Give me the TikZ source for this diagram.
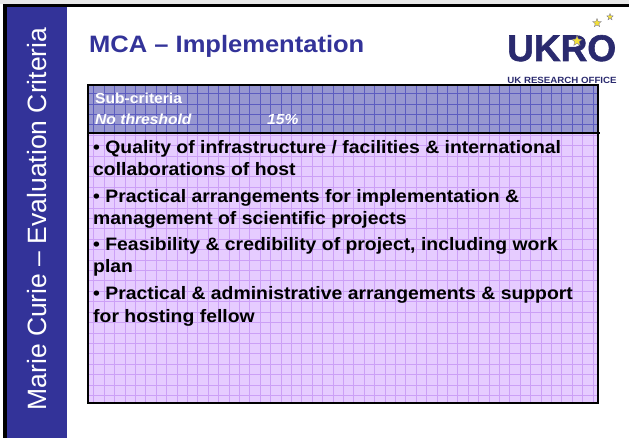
\documentclass[tikz,border=0pt]{standalone}
\usepackage{fontspec}
\setmainfont{Liberation Sans}[FakeStretch=1.077]
\newfontfamily\sidefont{Liberation Sans}
\newfontfamily\logofont{Liberation Sans Bold}[FakeBold=1.6]
\usetikzlibrary{shapes.geometric}
\definecolor{mcablue}{HTML}{333399}
\definecolor{headfill}{HTML}{9797D0}
\definecolor{headgrid}{HTML}{5C5CC0}
\definecolor{bodyfill}{HTML}{E6CCFF}
\definecolor{bodygrid}{HTML}{CCA0F6}
\definecolor{logonavy}{HTML}{2A2A6E}
\definecolor{staryellow}{HTML}{F3E03A}
\begin{document}
\begin{tikzpicture}[x=1pt,y=-1pt,
	headtext/.style={anchor=base west,inner sep=0pt,text=white,font=\fontsize{14.5}{17}\selectfont\bfseries},
	itemtext/.style={anchor=base west,inner sep=0pt,font=\fontsize{18}{21}\selectfont\bfseries},
	logostar/.style={star,star points=5,star point ratio=2.3,fill=staryellow,draw=logonavy!70,line width=0.3pt,inner sep=0pt}]
	\useasboundingbox (0,0) rectangle (629,438);

	% slide frame and side bar
	\fill[gray!18] (0,0) rectangle (629,4);
	\fill[mcablue] (6,6) rectangle (67,438);
	\draw[line width=3.2pt] (4.9,438) -- (4.9,5.4) -- (629,5.4);
	\node[rotate=90,inner sep=0pt,text=white,font=\sidefont\fontsize{26.5}{30}\selectfont] (side) at (37,219) {Marie Curie – Evaluation Criteria};

	\node[anchor=base west,inner sep=0pt,text=mcablue,font=\fontsize{23.7}{28}\selectfont\bfseries] (title) at (89,53) {MCA – Implementation};

	% logo
	\node[anchor=base west,inner sep=0pt,text=logonavy,font=\logofont\fontsize{37}{40}\selectfont] (ukro) at (507,61) {UKRO};
	\node[anchor=base,inner sep=0pt,text=logonavy,font=\fontsize{9}{10}\selectfont\bfseries] (office) at (562,84) {UK RESEARCH OFFICE};
	\node[logostar,minimum size=11pt] (star1) at (577,41) {};
	\node[logostar,minimum size=9pt] (star2) at (597,23) {};
	\node[logostar,minimum size=7pt] (star3) at (610,17) {};

	% table
	\fill[headfill] (88,85) rectangle (598,133);
	\draw[headgrid,line width=0.6pt,step=10.4pt] (88,133) grid (598,85);
	\fill[bodyfill] (88,133) rectangle (598,403);
	\draw[bodygrid,line width=0.6pt,step=10.4pt] (88,403) grid (598,133);
	\draw[line width=1.2pt] (88,133) -- (600,133);
	\draw[line width=2.2pt] (88,85) rectangle (598,403);

	\node[headtext] (head1) at (95,104) {Sub-criteria};
	\node[headtext,font=\fontsize{14.5}{17}\selectfont\bfseries\itshape] (head2) at (95,125) {No threshold};
	\node[headtext,font=\fontsize{14.5}{17}\selectfont\bfseries\itshape] (weight) at (267,125) {15\%};

	\node[itemtext] (item1a) at (93,154) {• Quality of infrastructure / facilities \& international};
	\node[itemtext] (item1b) at (93,176) {collaborations of host};
	\node[itemtext] (item2a) at (93,203) {• Practical arrangements for implementation \&};
	\node[itemtext] (item2b) at (93,225) {management of scientific projects};
	\node[itemtext] (item3a) at (93,251) {• Feasibility \& credibility of project, including work};
	\node[itemtext] (item3b) at (93,273) {plan};
	\node[itemtext] (item4a) at (93,300) {• Practical \& administrative arrangements \& support};
	\node[itemtext] (item4b) at (93,322) {for hosting fellow};
\end{tikzpicture}
\end{document}
